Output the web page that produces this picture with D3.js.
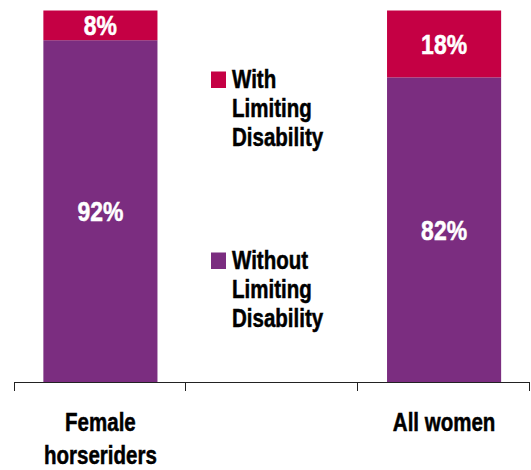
<!DOCTYPE html>
<html>
<head>
<meta charset="utf-8">
<script src="https://cdn.jsdelivr.net/npm/d3@7"></script>
<style>
  html, body { margin: 0; padding: 0; background: #fff; }
  svg { display: block; }
  text { font-family: "Liberation Sans", Arial, sans-serif; font-weight: bold; }
</style>
</head>
<body>
<svg id="chart" width="531" height="470"></svg>
<script>
// Share of women with / without a limiting disability
const categories = ["Female horseriders", "", "All women"];
const categoryLines = [["Female", "horseriders"], [], ["All women"]];
const withDisability = [8, null, 18];
const withoutDisability = [92, null, 82];
const seriesNames = [["With", "Limiting", "Disability"], ["Without", "Limiting", "Disability"]];
const colors = { with: "#c50044", without: "#7b2d80" };

const svg = d3.select("#chart");
const axisY = 382;
const narrow = 0.82; // horizontal squeeze for a condensed face

// text block anchored at x, squeezed horizontally around it, slightly heavier strokes
function condensed(parent, x, anchor, fill) {
  return parent.append("g")
    .attr("transform", `translate(${x},0) scale(${narrow},1)`)
    .append("text").attr("text-anchor", anchor)
    .attr("fill", fill).attr("stroke", fill).attr("stroke-width", 0.5);
}

const x = d3.scaleBand().domain(categories).range([14.5, 530]).padding(0);
const xBar = d3.scaleBand().domain(categories).range([14.5, 530])
  .paddingInner(0.336).paddingOuter(0.168);
const y = d3.scaleLinear().domain([0, 100]).range([axisY, 10.5]);

const rows = categories.map((c, i) => ({
  cat: c, without: withoutDisability[i], with: withDisability[i]
})).filter(d => d.without != null);

const stack = d3.stack().keys(["without", "with"]);
const layers = stack(rows);

const g = svg.append("g");
layers.forEach(layer => {
  g.selectAll(null).data(layer).enter().append("rect")
    .attr("x", d => xBar(d.data.cat))
    .attr("width", xBar.bandwidth())
    .attr("y", d => y(d[1]))
    .attr("height", d => y(d[0]) - y(d[1]))
    .attr("fill", colors[layer.key]);
  layer.forEach(d => {
    condensed(g, xBar(d.data.cat) + xBar.bandwidth() / 2, "middle", "#fff")
      .attr("x", 0)
      .attr("y", (y(d[0]) + y(d[1])) / 2)
      .attr("dy", "0.36em")
      .attr("font-size", 28)
      .text(d.data[layer.key] + "%");
  });
});

// category axis with ticks at band boundaries
const axis = svg.append("g").attr("stroke", "#222").attr("stroke-width", 1);
const r = x.range();
axis.append("line").attr("x1", r[0]).attr("x2", r[1]).attr("y1", axisY + 0.5).attr("y2", axisY + 0.5);
const edges = categories.map(c => x(c)).concat([r[1]]);
axis.selectAll(null).data(edges).enter().append("line")
  .attr("x1", d => Math.round(d) - 0.5).attr("x2", d => Math.round(d) - 0.5)
  .attr("y1", axisY).attr("y2", axisY + 9);

categories.forEach((c, i) => {
  const t = condensed(svg, x(c) + x.bandwidth() / 2, "middle", "#000")
    .attr("font-size", 25);
  categoryLines[i].forEach((line, j) => {
    t.append("tspan").attr("x", 0).attr("y", 431 + j * 33).text(line);
  });
});

// legend
const legendTop = [88, 269];
const legendColors = [colors.with, colors.without];
seriesNames.forEach((lines, i) => {
  svg.append("rect")
    .attr("x", 211).attr("y", legendTop[i] - 16.5)
    .attr("width", 15).attr("height", 16.5)
    .attr("fill", legendColors[i]);
  const t = condensed(svg, 232, "start", "#000").attr("font-size", 25);
  lines.forEach((line, j) => {
    t.append("tspan").attr("x", 0).attr("y", legendTop[i] + j * 29).text(line);
  });
});
</script>
</body>
</html>
